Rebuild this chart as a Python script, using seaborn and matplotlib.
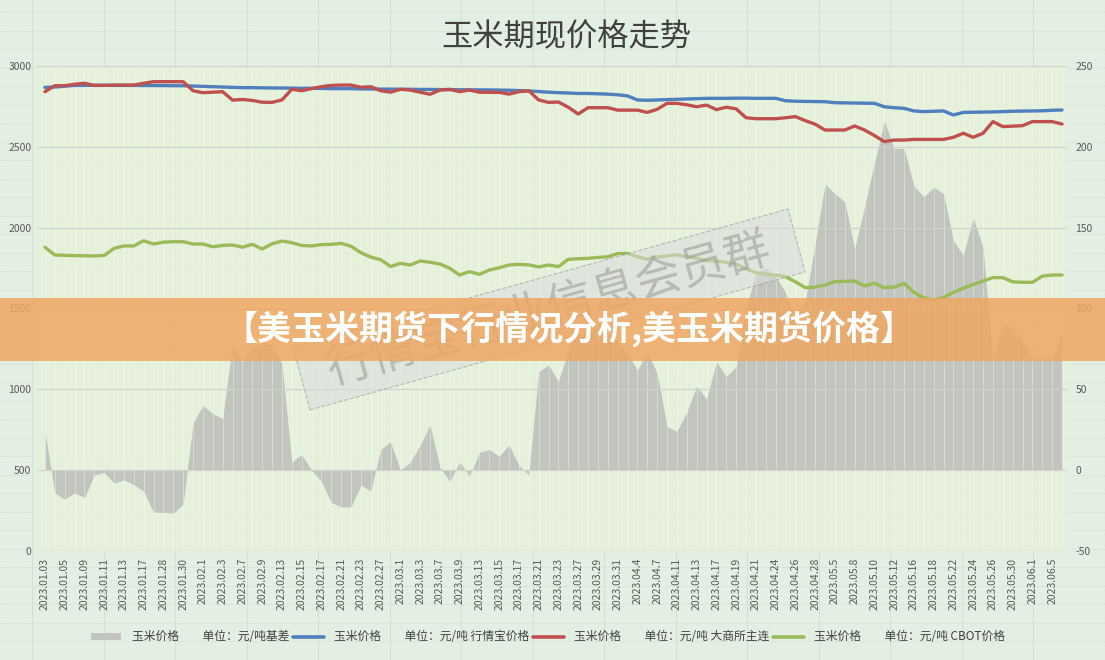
import numpy as np
import pandas as pd
import seaborn as sns
import matplotlib.pyplot as plt
from matplotlib.patches import Polygon, Rectangle, Patch
from matplotlib.lines import Line2D

# trading days (label shown on every other one)
dates = [
    "2023.01.03", "2023.01.04", "2023.01.05", "2023.01.06", "2023.01.09", "2023.01.10",
    "2023.01.11", "2023.01.12", "2023.01.13", "2023.01.16", "2023.01.17", "2023.01.18",
    "2023.01.28", "2023.01.29", "2023.01.30", "2023.01.31", "2023.02.1", "2023.02.2",
    "2023.02.3", "2023.02.6", "2023.02.7", "2023.02.8", "2023.02.9", "2023.02.10",
    "2023.02.13", "2023.02.14", "2023.02.15", "2023.02.16", "2023.02.17", "2023.02.20",
    "2023.02.21", "2023.02.22", "2023.02.23", "2023.02.24", "2023.02.27", "2023.02.28",
    "2023.03.1", "2023.03.2", "2023.03.3", "2023.03.6", "2023.03.7", "2023.03.8",
    "2023.03.9", "2023.03.10", "2023.03.13", "2023.03.14", "2023.03.15", "2023.03.16",
    "2023.03.17", "2023.03.20", "2023.03.21", "2023.03.22", "2023.03.23", "2023.03.24",
    "2023.03.27", "2023.03.28", "2023.03.29", "2023.03.30", "2023.03.31", "2023.04.3",
    "2023.04.4", "2023.04.6", "2023.04.7", "2023.04.10", "2023.04.11", "2023.04.12",
    "2023.04.13", "2023.04.14", "2023.04.17", "2023.04.18", "2023.04.19", "2023.04.20",
    "2023.04.21", "2023.04.23", "2023.04.24", "2023.04.25", "2023.04.26", "2023.04.27",
    "2023.04.28", "2023.05.4", "2023.05.5", "2023.05.6", "2023.05.8", "2023.05.9",
    "2023.05.10", "2023.05.11", "2023.05.12", "2023.05.15", "2023.05.16", "2023.05.17",
    "2023.05.18", "2023.05.19", "2023.05.22", "2023.05.23", "2023.05.24", "2023.05.25",
    "2023.05.26", "2023.05.29", "2023.05.30", "2023.05.31", "2023.06.1", "2023.06.2",
    "2023.06.5", "2023.06.6",
]

# 行情宝价格 (元/吨, left axis)
hqb_price = [
    2868, 2870, 2875, 2880, 2880, 2881, 2881, 2880, 2880, 2880,
    2879, 2879, 2879, 2878, 2878, 2876, 2874, 2872, 2870, 2868,
    2866, 2866, 2865, 2864, 2864, 2863, 2862, 2862, 2861, 2860,
    2860, 2860, 2858, 2858, 2857, 2857, 2856, 2856, 2855, 2855,
    2854, 2854, 2853, 2853, 2852, 2852, 2851, 2850, 2848, 2846,
    2842, 2838, 2835, 2833, 2830, 2830, 2828, 2826, 2822, 2815,
    2790, 2788, 2790, 2792, 2794, 2796, 2798, 2800, 2800, 2800,
    2801, 2801, 2800, 2800, 2800, 2785, 2782, 2781, 2780, 2779,
    2773, 2772, 2771, 2770, 2769, 2748, 2742, 2738, 2722, 2718,
    2720, 2722, 2697, 2713, 2714, 2715, 2716, 2718, 2720, 2721,
    2722, 2723, 2726, 2728,
]

# 大商所主连 (元/吨, left axis)
dce_price = [
    2841, 2878, 2878, 2887, 2893, 2880, 2880, 2882, 2882, 2882,
    2893, 2903, 2903, 2903, 2903, 2847, 2835, 2838, 2841, 2789,
    2793, 2787, 2776, 2775, 2790, 2856, 2847, 2860, 2872, 2880,
    2882, 2882, 2868, 2872, 2847, 2838, 2856, 2851, 2838, 2825,
    2851, 2856, 2841, 2851, 2838, 2837, 2837, 2826, 2841, 2847,
    2790, 2775, 2777, 2745, 2703, 2742, 2742, 2742, 2727, 2727,
    2727, 2713, 2732, 2769, 2769, 2760, 2748, 2758, 2730, 2745,
    2735, 2680, 2674, 2674, 2674, 2680, 2687, 2662, 2640, 2604,
    2604, 2604, 2629, 2604, 2570, 2532, 2542, 2542, 2546, 2546,
    2546, 2546, 2559, 2584, 2559, 2584, 2656, 2625, 2628, 2631,
    2656, 2656, 2656, 2641,
]

# CBOT价格 (元/吨, left axis)
cbot_price = [
    1879, 1831, 1829, 1827, 1826, 1825, 1828, 1872, 1887, 1887,
    1919, 1899, 1910, 1913, 1913, 1899, 1899, 1882, 1890, 1893,
    1879, 1897, 1868, 1900, 1917, 1907, 1890, 1887, 1895, 1897,
    1903, 1885, 1845, 1818, 1802, 1760, 1779, 1769, 1794, 1786,
    1775, 1749, 1707, 1728, 1711, 1738, 1752, 1769, 1773, 1770,
    1757, 1769, 1759, 1804, 1808, 1810, 1816, 1820, 1840, 1840,
    1820, 1805, 1818, 1825, 1833, 1820, 1810, 1795, 1794, 1785,
    1775, 1745, 1722, 1712, 1707, 1697, 1665, 1629, 1632, 1645,
    1666, 1668, 1670, 1640, 1656, 1629, 1632, 1656, 1600, 1565,
    1553, 1568, 1600, 1625, 1648, 1670, 1691, 1691, 1665, 1662,
    1662, 1700, 1707, 1707,
]

# 基差 (元/吨, right axis)
basis = [
    24, -14, -18, -14, -17, -3, -1.5, -8, -6, -9,
    -13, -26, -26, -26.5, -21, 29, 40, 35, 32, 78,
    67, 76, 78, 78, 66, 5, 9.7, 0, -7, -20,
    -22.7, -22.7, -9.3, -12.8, 12.8, 17.5, 0, 5, 15.5, 28,
    2, -7, 5, -3.7, 11, 12.8, 8.7, 15.5, 3, -3,
    61, 65, 55, 74, 88, 92, 90, 85, 80, 72,
    62, 73, 60, 27, 24, 36, 52, 44, 67, 58,
    64, 100, 122, 125, 120, 110, 95, 105, 140, 177,
    171, 166, 137, 163, 190, 216, 199, 199, 176, 169,
    175, 171, 142, 133, 156, 138, 67, 91, 88, 80,
    69, 69, 69, 85,
]

series_names = ["行情宝价格", "大商所主连", "CBOT价格"]
colors = {"行情宝价格": "#4f7fbd", "大商所主连": "#c0504d", "CBOT价格": "#9bbb59"}
area_color = "#c2c5bd"

n = len(dates)
idx = np.arange(n)
df = pd.DataFrame({"idx": idx, "行情宝价格": hqb_price, "大商所主连": dce_price, "CBOT价格": cbot_price})
long_df = df.melt(id_vars="idx", var_name="series", value_name="price")

sns.set_style("white")
plt.rcParams['font.family'] = ['Noto Sans CJK SC', 'DejaVu Sans']
plt.rcParams['axes.unicode_minus'] = False

W, H = 1105, 660
fig = plt.figure(figsize=(W / 100, H / 100), dpi=100, facecolor="#e3efe2")


def fx(px):
    return px / W


def fy(py):
    return 1 - py / H


# faint spreadsheet grid behind everything
for gx in np.arange(32, W, 71.5):
    fig.add_artist(Line2D([fx(gx)] * 2, [0, 1], color="#d2e1d2", lw=0.8, zorder=-1))
for gy in np.arange(12, H, 18.5):
    fig.add_artist(Line2D([0, 1], [fy(gy)] * 2, color="#d8e6d7", lw=0.6, zorder=-1))

ax = fig.add_axes([fx(37), fy(551), fx(1067) - fx(37), (551 - 66) / H])
ax2 = ax.twinx()
ax.set_zorder(2)
ax.patch.set_visible(False)
ax2.set_zorder(1)
ax2.patch.set_visible(True)
ax2.set_facecolor((0.91, 0.95, 0.86, 0.8))

# basis area on right axis
ax2.fill_between(idx, 0, basis, color=area_color, lw=0)
ax2.set_ylim(-50, 250)
ax2.set_yticks(range(-50, 251, 50))

# price lines on left axis
sns.lineplot(data=long_df, x="idx", y="price", hue="series", hue_order=series_names,
             palette=colors, linewidth=2.4, ax=ax, legend=False)
ax.set_ylim(0, 3000)
ax.set_yticks(range(0, 3001, 500))
ax.set_xlim(-0.8, 103.5)
ax.set_xticks(idx[::2])
ax.set_xticklabels(dates[::2], rotation=90)
ax.set_xticks(idx, minor=True)
ax.set_xlabel("")
ax.set_ylabel("")
ax2.set_ylabel("")

ax.grid(axis="x", which="both", color="white", lw=0.5, alpha=0.5)
ax.grid(axis="y", which="major", color="#cfd3cb", lw=0.9)

for a in (ax, ax2):
    for s in a.spines.values():
        s.set_visible(False)
ax.tick_params(axis="both", which="both", length=0, labelsize=7.5, colors="#595959")
ax.tick_params(axis="y", pad=4)
ax.tick_params(axis="x", pad=5)
ax2.tick_params(axis="y", length=0, labelsize=7.5, colors="#595959", pad=6)

# title
fig.text(fx(566), fy(37), "玉米期现价格走势", ha="center", va="center",
         fontsize=22.5, color="#404040")

# legend
handles = [Patch(facecolor=area_color, edgecolor="none")] + \
          [Line2D([], [], color=colors[s], lw=2.6) for s in series_names]
labels = ["玉米价格\u3000\u3000单位：元/吨基差",
          "玉米价格\u3000\u3000单位：元/吨 行情宝价格",
          "玉米价格\u3000\u3000单位：元/吨 大商所主连",
          "玉米价格\u3000\u3000单位：元/吨 CBOT价格"]
fig.legend(handles, labels, ncol=4, loc="center", bbox_to_anchor=(fx(548), fy(637)),
           frameon=False, fontsize=8.5, handlelength=2.6, handleheight=0.6,
           handletextpad=0.9, columnspacing=0.3, labelcolor="#404040")

# watermark box
corners = [(310, 410), (805, 272), (788, 209), (293, 347)]
fig.add_artist(Polygon([(fx(x), fy(y)) for x, y in corners], closed=True,
                       transform=fig.transFigure, facecolor="#dcdcdc", alpha=0.55,
                       edgecolor="#8f8f8f", linestyle="--", lw=0.8, zorder=5))
fig.text(fx(549), fy(310), "行情宝行业信息会员群", rotation=15.6, rotation_mode="anchor",
         ha="center", va="center", fontsize=33, color="#9c9c9c", alpha=0.6, zorder=5)

# banner
fig.add_artist(Rectangle((0, fy(361)), 1, (361 - 298) / H, transform=fig.transFigure,
                         facecolor="#efa762", alpha=0.85, edgecolor="none", zorder=6))
fig.text(fx(569), fy(329), "【美玉米期货下行情况分析,美玉米期货价格】", ha="center", va="center",
         fontsize=24.5, fontweight="bold", color="white", zorder=7)

fig.savefig("out.png", dpi=100, facecolor=fig.get_facecolor())
